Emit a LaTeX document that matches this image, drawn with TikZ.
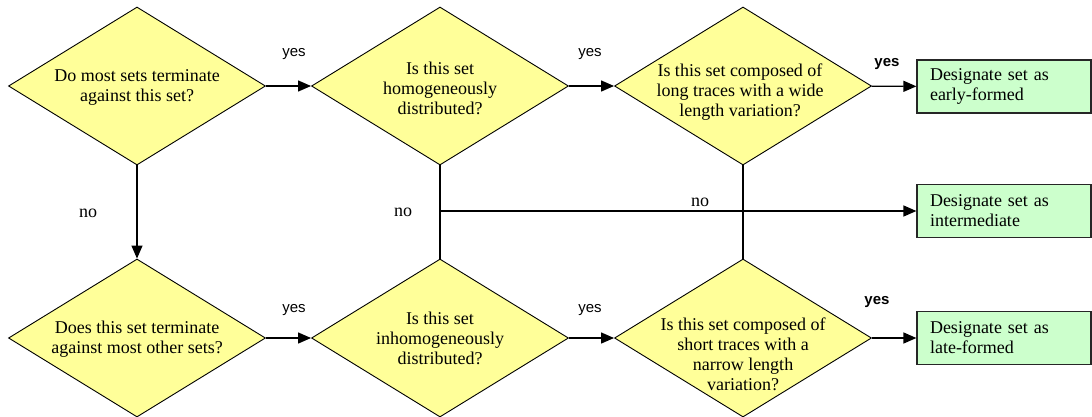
\documentclass[tikz,border=0pt]{standalone}
\usepackage{fontspec}
\setmainfont{Liberation Serif}
\newfontfamily\lblfont{Liberation Sans}
\usetikzlibrary{shapes.geometric,arrows.meta}
\definecolor{qyellow}{RGB}{255,255,153}
\definecolor{agreen}{RGB}{204,255,204}
\tikzset{
  question/.style={diamond,draw=black,line width=0.9pt,fill=qyellow,
    minimum width=257pt,minimum height=158pt,inner sep=0pt},
  qtext/.style={align=center,font={\fontsize{18}{20}\selectfont}},
  outcome/.style={rectangle,draw=black!85,line width=1.2pt,fill=agreen,
    minimum height=53pt,text width=148pt,inner xsep=13pt,align=left,
    font={\fontsize{18}{20}\selectfont}},
  flow/.style={line width=1.3pt,-{Triangle[length=13pt,width=11pt]}},
  joint/.style={line width=1.3pt},
  yeslbl/.style={font={\lblfont\fontsize{15}{18}\selectfont}},
  nolbl/.style={font={\fontsize{18}{20}\selectfont}}
}
\begin{document}
\begin{tikzpicture}[x=1pt,y=-1pt]
  \useasboundingbox[fill=white] (0,0) rectangle (1092,416);

  \node[question] (q1) at (137,86) {};
  \node[qtext] (q1txt) at (137,87) {Do most sets terminate\\against this set?};
  \node[question] (q2) at (440,86) {};
  \node[qtext] (q2txt) at (440,88) {Is this set\\homogeneously\\distributed?};
  \node[question] (q3) at (743,86) {};
  \node[qtext] (q3txt) at (740,92) {Is this set composed of\\long traces with a wide\\length variation?};

  \node[question] (q4) at (137,338) {};
  \node[qtext] (q4txt) at (137,339) {Does this set terminate\\against most other sets?};
  \node[question] (q5) at (440,338) {};
  \node[qtext] (q5txt) at (440,338) {Is this set\\inhomogeneously\\distributed?};
  \node[question] (q6) at (743,338) {};
  \node[qtext] (q6txt) at (743,354) {Is this set composed of\\short traces with a\\narrow length\\variation?};

  \node[outcome] (early) at (1004,86.5) {Designate set as\\early-formed};
  \node[outcome] (inter) at (1004,211) {Designate set as\\intermediate};
  \node[outcome] (late) at (1004,338) {Designate set as\\late-formed};

  \draw[flow] (q1) -- (q2);
  \draw[flow] (q2) -- (q3);
  \draw[flow] (q3) -- (early);
  \draw[flow] (q1) -- (q4);
  \draw[flow] (q4) -- (q5);
  \draw[flow] (q5) -- (q6);
  \draw[flow] (q6) -- (late);
  \draw[joint] (q2) -- (q5);
  \draw[joint] (q3) -- (q6);
  \coordinate (nofork) at (q2.south |- inter.west);
  \draw[flow] (nofork) -- (inter);

  \node[yeslbl] (yes1) at (294,54) {yes};
  \node[yeslbl] (yes2) at (590,54) {yes};
  \node[yeslbl] (yes3) at (887,64) {\bfseries yes};
  \node[yeslbl] (yes4) at (294,310) {yes};
  \node[yeslbl] (yes5) at (590,310) {yes};
  \node[yeslbl] (yes6) at (877,302) {\bfseries yes};
  \node[nolbl] (no1) at (88,213) {no};
  \node[nolbl] (no2) at (403,212) {no};
  \node[nolbl] (no3) at (700,202) {no};
\end{tikzpicture}
\end{document}
